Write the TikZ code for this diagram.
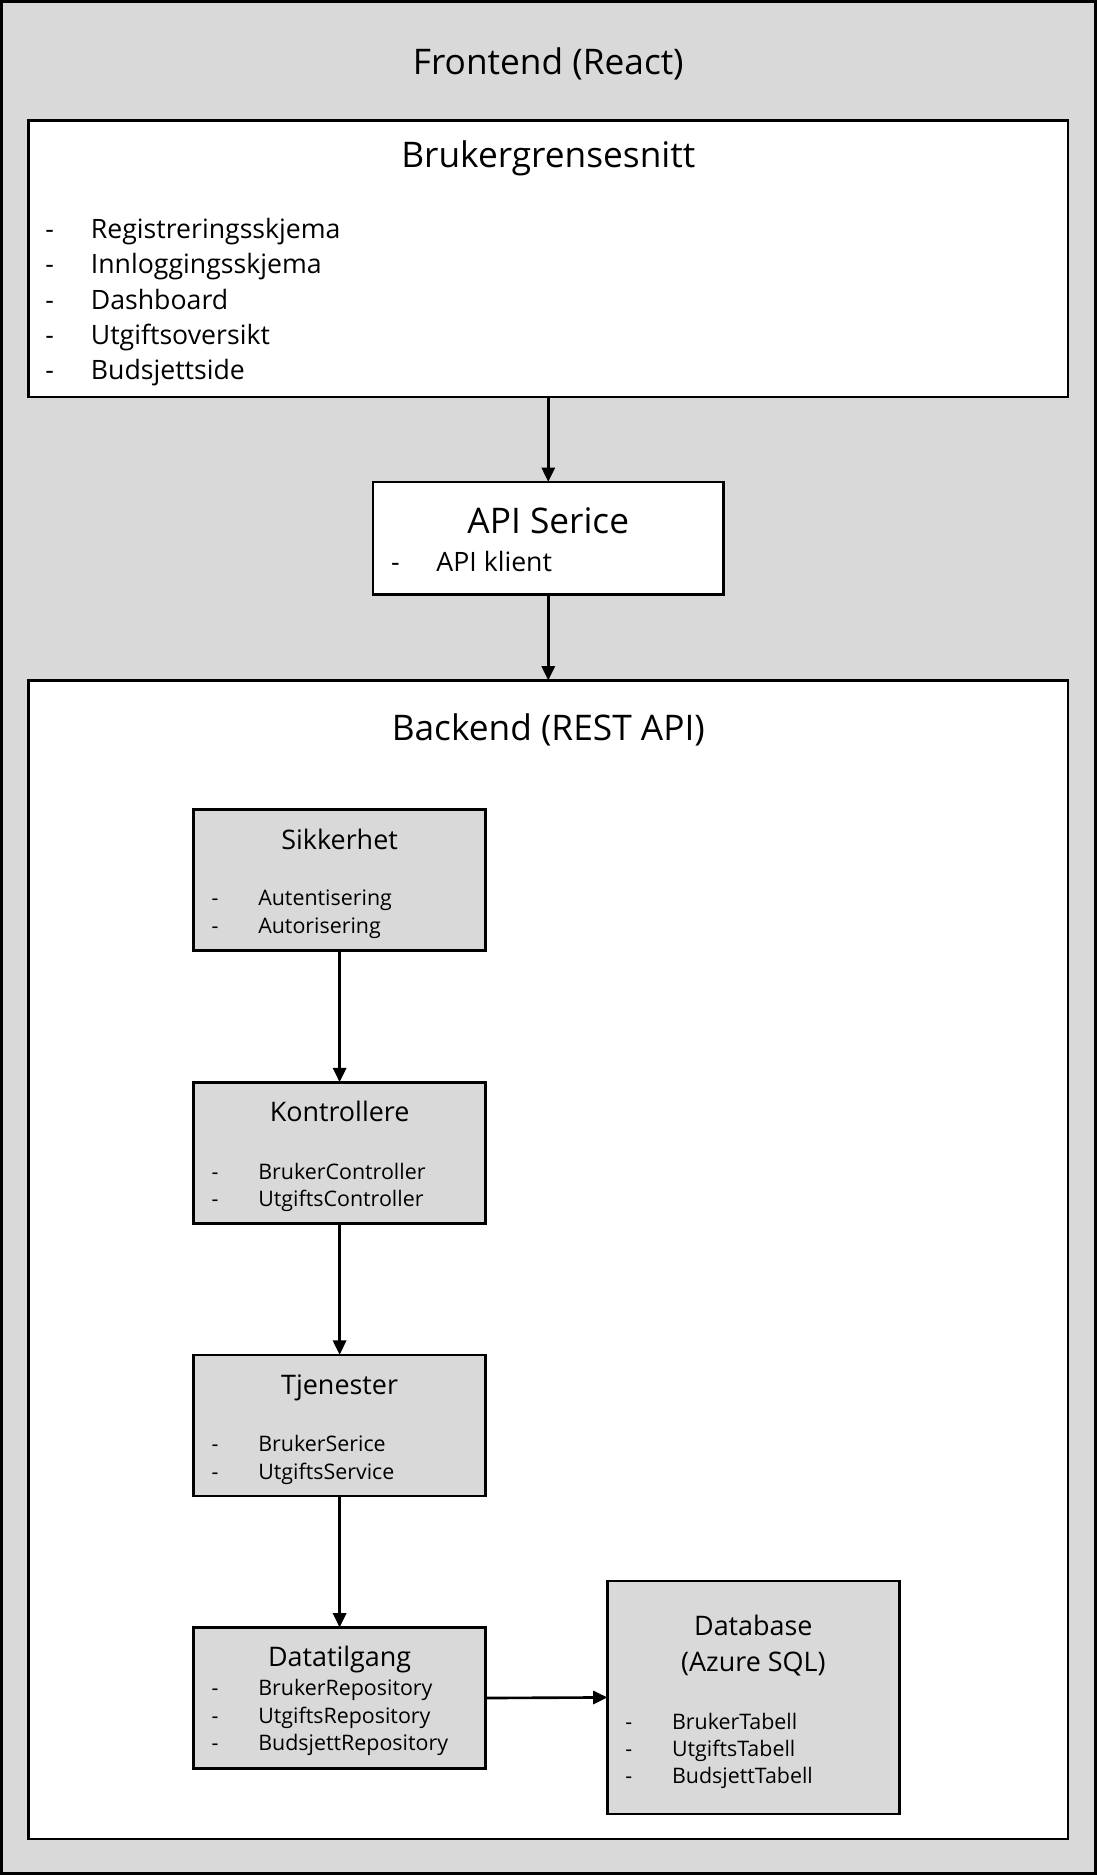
\documentclass[tikz,border=0pt]{standalone}
\usepackage{fontspec}
\setmainfont{Open Sans}
\usetikzlibrary{positioning,arrows.meta}

\definecolor{bggrey}{HTML}{D9D9D9}
\newcommand{\itm}[1]{\makebox[38pt][l]{-}#1}
\newcommand{\sitm}[1]{\makebox[39pt][l]{-}#1}

\begin{document}
\begin{tikzpicture}[x=1pt, y=-1pt,
		every node/.style = {inner sep=0pt, outer sep=0pt},
		layer/.style = {draw, line width=2.2pt, fill=white},
		part/.style = {draw, line width=2.2pt, fill=bggrey,
			minimum width=244pt, minimum height=118pt},
		bigtitle/.style = {font=\fontsize{29.5}{34}\selectfont},
		parttitle/.style = {font=\fontsize{22.5}{30}\selectfont, align=center},
		biglist/.style = {font=\fontsize{22.3}{29.5}\selectfont, align=left},
		smalllist/.style = {font=\fontsize{17.9}{22.8}\selectfont, align=left},
		flow/.style = {-{Triangle[length=12pt,width=11pt]}, line width=2.2pt}
		]
		\useasboundingbox (0,0) rectangle (917,1568);
		% frontend frame
		\node[draw, line width=2.4pt, fill=bggrey, minimum width=914.6pt,
			minimum height=1565.6pt] (frontend) at (458.5,784) {};
		\node[bigtitle, anchor=base] (fetitle) at (458.5,62) {Frontend (React)};

		% user interface
		\node[layer, minimum width=869pt, minimum height=231pt] (ui) at (458.5,216.5) {};
		\node[bigtitle, anchor=base] (uititle) at (458.5,140) {Brukergrensesnitt};
		\node[biglist, anchor=north west] (uilist) at (38,182.5) {\itm{Registreringsskjema}\\
			\itm{Innloggingsskjema}\\ \itm{Dashboard}\\ \itm{Utgiftsoversikt}\\ \itm{Budsjettside}};

		% api service
		\node[layer, minimum width=293pt, minimum height=94pt] (api) at (458.5,450) {};
		\node[bigtitle, anchor=base] (apititle) at (458.5,446) {API Serice};
		\node[biglist, anchor=north west] (apilist) at (327,461) {\itm{API klient}};

		% backend
		\node[layer, minimum width=869pt, minimum height=969pt] (backend) at (458.5,1053.5) {};
		\node[bigtitle, anchor=base] (betitle) at (458.5,619) {Backend (REST API)};

		\node[part] (sik) at (284,736) {};
		\node[part, below=110pt of sik] (kon) {};
		\node[part, below=110pt of kon] (tje) {};
		\node[part, below=110pt of tje] (dat) {};
		\node[part, minimum height=195pt] (db) at (630,1419.5) {};

		\node[parttitle, anchor=base] (siktitle) at ([yshift=-33pt]sik.north) {Sikkerhet};
		\node[smalllist, anchor=north west] (siklist) at ([xshift=15pt,yshift=-67.5pt]sik.north west)
			{\sitm{Autentisering}\\ \sitm{Autorisering}};
		\node[parttitle, anchor=base] (kontitle) at ([yshift=-33pt]kon.north) {Kontrollere};
		\node[smalllist, anchor=north west] (konlist) at ([xshift=15pt,yshift=-67.5pt]kon.north west)
			{\sitm{BrukerController}\\ \sitm{UtgiftsController}};
		\node[parttitle, anchor=base] (tjetitle) at ([yshift=-33pt]tje.north) {Tjenester};
		\node[smalllist, anchor=north west] (tjelist) at ([xshift=15pt,yshift=-67.5pt]tje.north west)
			{\sitm{BrukerSerice}\\ \sitm{UtgiftsService}};
		\node[parttitle, anchor=base] (dattitle) at ([yshift=-33pt]dat.north) {Datatilgang};
		\node[smalllist, anchor=north west] (datlist) at ([xshift=15pt,yshift=-43.5pt]dat.north west)
			{\sitm{BrukerRepository}\\ \sitm{UtgiftsRepository}\\ \sitm{BudsjettRepository}};
		\node[parttitle, anchor=north] (dbtitle) at ([yshift=-28.5pt]db.north) {Database\\(Azure SQL)};
		\node[smalllist, anchor=north west] (dblist) at ([xshift=15pt,yshift=-110.5pt]db.north west)
			{\sitm{BrukerTabell}\\ \sitm{UtgiftsTabell}\\ \sitm{BudsjettTabell}};

		\draw[flow] (ui.south) -- (api.north);
		\draw[flow] (api.south) -- (backend.north);
		\draw[flow] (sik.south) -- (kon.north);
		\draw[flow] (kon.south) -- (tje.north);
		\draw[flow] (tje.south) -- (dat.north);
		\draw[flow] (dat.east) -- (db.west);
	\end{tikzpicture}
\end{document}
